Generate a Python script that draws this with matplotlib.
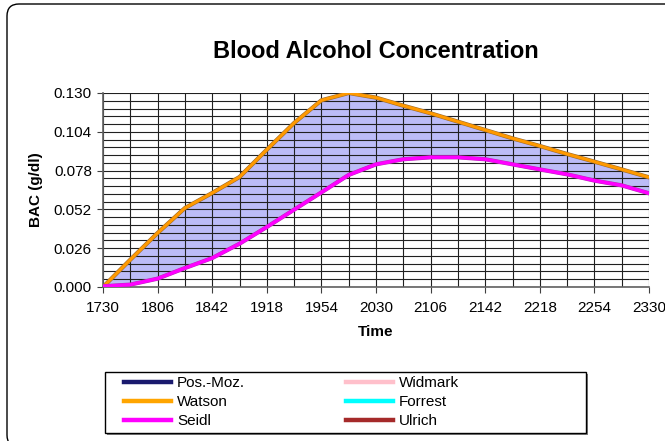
import numpy as np
import matplotlib
matplotlib.use("Agg")
import matplotlib.pyplot as plt
from matplotlib.lines import Line2D
from matplotlib.patches import FancyBboxPatch, Rectangle
from matplotlib.transforms import IdentityTransform
import matplotlib.patheffects as pe

plt.rcParams['font.family'] = ['Liberation Sans', 'DejaVu Sans']

# time of day (hhmm), one point every 18 minutes
times = ["1730", "1748", "1806", "1824", "1842", "1900", "1918", "1936", "1954", "2012", "2030",
         "2048", "2106", "2124", "2142", "2200", "2218", "2236", "2254", "2312", "2330"]
watson = [0.0000, 0.0183, 0.0362, 0.0529, 0.0630, 0.0737, 0.0920, 0.1099, 0.1251, 0.1300, 0.1269,
          0.1215, 0.1164, 0.1108, 0.1052, 0.0996, 0.0945, 0.0891, 0.0840, 0.0788, 0.0735]
seidl = [0.0005, 0.0016, 0.0056, 0.0127, 0.0194, 0.0290, 0.0402, 0.0518, 0.0634, 0.0751, 0.0822,
         0.0856, 0.0869, 0.0869, 0.0856, 0.0822, 0.0788, 0.0755, 0.0713, 0.0681, 0.0628]
yticks = [0.000, 0.026, 0.052, 0.078, 0.104, 0.130]

legend_names = ["Pos.-Moz.", "Watson", "Seidl", "Widmark", "Forrest", "Ulrich"]
legend_colors = ["#1a1a6e", "#ffa500", "#ff00ff", "#ffc0cb", "#00ffff", "#a52a2a"]

W, H = 665, 441
fig = plt.figure(figsize=(W/100, H/100), dpi=100)
ax = fig.add_axes([103/W, 1-287/H, (649-103)/W, (287-93)/H])

x = np.arange(len(times))
ax.fill_between(x, seidl, watson, color="#bcbcf7", lw=0, zorder=1)
ax.plot(x, watson, color="#ff9900", lw=2.2, zorder=3,
        path_effects=[pe.Stroke(linewidth=3.0, foreground="#9a6a30"), pe.Normal()])
ax.plot(x, seidl, color="#ff00ff", lw=2.4, zorder=3,
        path_effects=[pe.Stroke(linewidth=3.0, foreground="#b030b0"), pe.Normal()])

ax.set_xlim(0, len(times)-1)
ax.set_ylim(0, 0.130)
ax.set_xticks(x[::2])
ax.set_xticklabels(times[::2])
ax.set_xticks(x, minor=True)
ax.set_yticks(yticks)
ax.set_yticklabels([f"{v:.3f}" for v in yticks])
ax.set_yticks(np.linspace(0, 0.130, 26), minor=True)
ax.grid(which="both", color="#202020", lw=0.8, zorder=2)
ax.tick_params(axis="both", which="major", labelsize=11, length=4, width=0.8, color="#404040")
ax.tick_params(axis="x", which="major", pad=6)
ax.tick_params(axis="y", which="major", pad=4)
ax.tick_params(axis="both", which="minor", length=0)
for s in ["top", "right"]:
    ax.spines[s].set_visible(False)
for s in ["left", "bottom"]:
    ax.spines[s].set_color("#606060")
    ax.spines[s].set_linewidth(1.2)

ax.set_xlabel("Time", fontsize=11, fontweight="bold", labelpad=7)
ax.set_ylabel("BAC (g/dl)", fontsize=11, fontweight="bold", labelpad=8)
ax.set_title("Blood Alcohol Concentration", fontsize=17, fontweight="bold", pad=25)

# legend box (with a small gray shadow) drawn by hand, entries placed inside it
fig.patches.append(Rectangle((107, H-435), 481, 61, transform=IdentityTransform(),
                             facecolor="#808080", edgecolor="none"))
fig.patches.append(Rectangle((105, H-433), 481, 61, transform=IdentityTransform(),
                             facecolor="white", edgecolor="black", lw=1.0))
handles = [Line2D([], [], color=c, lw=3.2) for c in legend_colors]
leg = fig.legend(handles, legend_names, loc="upper left", ncol=2,
                 bbox_to_anchor=(124/W, 1-376/H), frameon=False,
                 fontsize=11, handlelength=3.08, handletextpad=0.4, labelspacing=0.33,
                 columnspacing=6.6, borderaxespad=0, borderpad=0)

frame = FancyBboxPatch((7, -6), 700, H - 4 + 6, boxstyle="round,pad=0,rounding_size=12",
                       transform=IdentityTransform(), fill=False, edgecolor="black", lw=1.0)
fig.patches.append(frame)

fig.savefig("out.png", dpi=100)
